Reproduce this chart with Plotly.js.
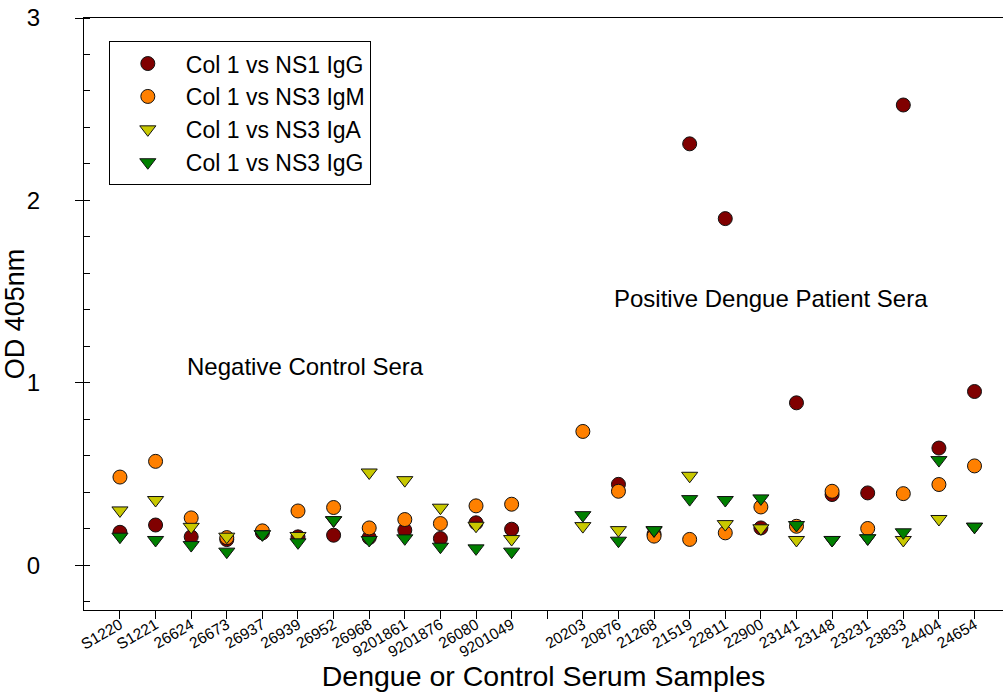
<!DOCTYPE html>
<html>
<head>
<meta charset="utf-8">
<script src="https://cdn.plot.ly/plotly-3.0.1.min.js"></script>
<style>html,body{margin:0;padding:0;background:#fff;}#chart{width:1003px;height:693px;}</style>
</head>
<body>
<div id="chart"></div>
<script>
var samples = ["S1220","S1221","26624","26673","26937","26939","26952","26968","9201861","9201876","26080","9201049","",
               "20203","20876","21268","21519","22811","22900","23141","23148","23231","23833","24404","24654"];

var ns1IgG = [0.18, 0.22, 0.155, 0.14, 0.177, 0.155, 0.164, 0.151, 0.192, 0.146, 0.232, 0.197, null,
              null, 0.443, 0.17, 2.31, 1.90, 0.204, 0.89, 0.387, 0.396, 2.523, 0.642, 0.952];
var ns3IgM = [0.483, 0.569, 0.259, 0.151, 0.188, 0.297, 0.316, 0.204, 0.250, 0.228, 0.325, 0.334, null,
              0.733, 0.405, 0.159, 0.141, 0.177, 0.319, 0.213, 0.405, 0.201, 0.392, 0.442, 0.544];
var ns3IgA = [0.30, 0.357, 0.21, 0.156, 0.17, 0.16, 0.245, 0.508, 0.466, 0.315, 0.216, 0.143, null,
              0.214, 0.192, 0.19, 0.49, 0.225, 0.202, 0.138, 0.138, 0.147, 0.138, 0.253, 0.21];
var ns3IgG = [0.156, 0.138, 0.11, 0.074, 0.169, 0.125, 0.247, 0.138, 0.147, 0.101, 0.092, 0.074, null,
              0.274, 0.134, 0.192, 0.362, 0.357, 0.366, 0.22, 0.138, 0.147, 0.18, 0.576, 0.211];

var seriesNames = ["Col 1 vs NS1 IgG","Col 1 vs NS3 IgM","Col 1 vs NS3 IgA","Col 1 vs NS3 IgG"];
var yTickVals = [0, 1, 2, 3];

var xPos = samples.map(function(_, i){ return i; });
var FONT = "Liberation Sans, Arial, sans-serif";

function mk(name, y, symbol, color, size){
  return {
    type: "scatter", mode: "markers", name: name, x: xPos, y: y,
    marker: {symbol: symbol, color: color, size: size, line: {color: "#111", width: 1}},
    hoverinfo: "x+y"
  };
}

var traces = [
  mk(seriesNames[0], ns1IgG, "circle", "#800000", 14),
  mk(seriesNames[1], ns3IgM, "circle", "#FF8000", 14),
  mk(seriesNames[2], ns3IgA, "triangle-down", "#C8C800", 14),
  mk(seriesNames[3], ns3IgG, "triangle-down", "#008000", 14)
];

var layout = {
  width: 1003, height: 693,
  margin: {l: 84, r: 0, t: 18, b: 83},
  paper_bgcolor: "#fff", plot_bgcolor: "#fff",
  font: {family: FONT, color: "#000"},
  showlegend: true,
  legend: {
    x: 0.027, y: 0.961, xanchor: "left", yanchor: "top",
    bordercolor: "#000", borderwidth: 1, bgcolor: "#fff",
    font: {family: FONT, size: 23, color: "#000"},
    itemwidth: 66
  },
  xaxis: {
    range: [-1.01, 24.8],
    tickmode: "array", tickvals: xPos, ticktext: samples,
    tickangle: -30,
    ticks: "outside", ticklen: 8, tickcolor: "#000", tickwidth: 1,
    tickfont: {family: FONT, size: 15.5, color: "#000"},
    ticklabelstandoff: -9,
    showline: true, linecolor: "#000", linewidth: 1, mirror: true,
    showgrid: false, zeroline: false,
    automargin: false,
    title: {text: "Dengue or Control Serum Samples", font: {family: FONT, size: 28.5, color: "#000"}, standoff: 0}
  },
  yaxis: {
    range: [-0.246, 3],
    tickmode: "array", tickvals: yTickVals,
    ticks: "outside", ticklen: 8, tickcolor: "#000", tickwidth: 1,
    tickfont: {family: FONT, size: 24, color: "#000"},
    ticklabelstandoff: 30,
    minor: {dtick: 0.2, tick0: 0, ticks: "inside", ticklen: 6, tickcolor: "#000", tickwidth: 1, showgrid: false},
    showline: true, linecolor: "#000", linewidth: 1, mirror: false,
    showgrid: false, zeroline: false,
    automargin: false,
    title: {text: "OD 405nm", font: {family: FONT, size: 27, color: "#000"}, standoff: 2}
  },
  annotations: [
    {text: "Negative Control Sera", x: 1.826, y: 1.089, xref: "x", yref: "y", xanchor: "left", yanchor: "middle",
     showarrow: false, font: {family: FONT, size: 24, color: "#000"}},
    {text: "Positive Dengue Patient Sera", x: 13.82, y: 1.461, xref: "x", yref: "y", xanchor: "left", yanchor: "middle",
     showarrow: false, font: {family: FONT, size: 24, color: "#000"}}
  ]
};

Plotly.newPlot("chart", traces, layout, {displayModeBar: false, staticPlot: true});
</script>
</body>
</html>
